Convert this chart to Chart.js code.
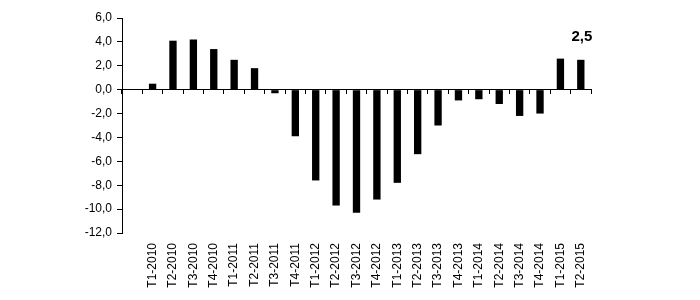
<!DOCTYPE html>
<html>
<head>
<meta charset="utf-8">
<script src="https://cdn.jsdelivr.net/npm/chart.js@4.4.1/dist/chart.umd.min.js"></script>
<style>
  html, body { margin: 0; padding: 0; background: #fff; }
  #wrap { width: 700px; height: 300px; }
</style>
</head>
<body>
<div id="wrap"><canvas id="chart" width="700" height="300"></canvas></div>
<script>
// first slot is an empty category, as in the source spreadsheet
var categories = ["", "T1-2010", "T2-2010", "T3-2010", "T4-2010", "T1-2011", "T2-2011", "T3-2011", "T4-2011",
  "T1-2012", "T2-2012", "T3-2012", "T4-2012", "T1-2013", "T2-2013", "T3-2013", "T4-2013",
  "T1-2014", "T2-2014", "T3-2014", "T4-2014", "T1-2015", "T2-2015"];
var values = [null, 0.5, 4.1, 4.2, 3.4, 2.5, 1.8, -0.3, -3.9,
  -7.6, -9.7, -10.3, -9.2, -7.8, -5.4, -3.0, -0.9,
  -0.8, -1.2, -2.2, -2.0, 2.6, 2.5];
var yTicks = [-12, -10, -8, -6, -4, -2, 0, 2, 4, 6];

function fmt(v) {
  return v.toFixed(1).replace('.', ',');
}

// bold value over the last bar
var lastLabel = {
  id: 'lastLabel',
  afterDatasetsDraw: function (chart) {
    var meta = chart.getDatasetMeta(0);
    var i = values.length - 1;
    var bar = meta.data[i];
    var ctx = chart.ctx;
    ctx.save();
    ctx.font = 'bold 15px "Liberation Sans", Arial, sans-serif';
    ctx.fillStyle = '#000';
    ctx.textAlign = 'center';
    ctx.textBaseline = 'bottom';
    ctx.fillText(fmt(values[i]), bar.x + 1, bar.y - 15);
    ctx.restore();
  }
};

Chart.defaults.font.family = '"Liberation Sans", Arial, sans-serif';
Chart.defaults.font.size = 12;
Chart.defaults.color = '#000';

new Chart(document.getElementById('chart').getContext('2d'), {
  type: 'bar',
  data: {
    labels: categories,
    datasets: [{
      data: values,
      backgroundColor: '#000',
      borderWidth: 0,
      categoryPercentage: 1,
      barPercentage: 0.36
    }]
  },
  options: {
    responsive: false,
    animation: false,
    layout: { padding: { left: 0, right: 109, top: 18, bottom: 0 } },
    plugins: { legend: { display: false }, tooltip: { enabled: false } },
    scales: {
      x: {
        position: 'bottom',
        offset: true,
        grid: { display: false, drawTicks: false },
        border: { display: false },
        ticks: { minRotation: 90, maxRotation: 90, padding: 10, autoSkip: false },
        afterFit: function (s) { s.height = 67; }
      },
      x2: {
        position: { y: 0 },
        offset: true,
        grid: { offset: true, drawOnChartArea: false, drawTicks: true, tickLength: 4, color: '#000' },
        border: { display: true, color: '#000', width: 1 },
        ticks: { display: false }
      },
      y: {
        min: -12,
        max: 6,
        afterBuildTicks: function (s) {
          s.ticks = yTicks.map(function (v) { return { value: v }; });
        },
        grid: { drawOnChartArea: false, drawTicks: true, tickLength: 5, color: '#000' },
        border: { display: true, color: '#000', width: 1 },
        ticks: { padding: 5, callback: function (v) { return fmt(v); } },
        afterFit: function (s) { s.width = 122; }
      }
    }
  },
  plugins: [lastLabel]
});
</script>
</body>
</html>
